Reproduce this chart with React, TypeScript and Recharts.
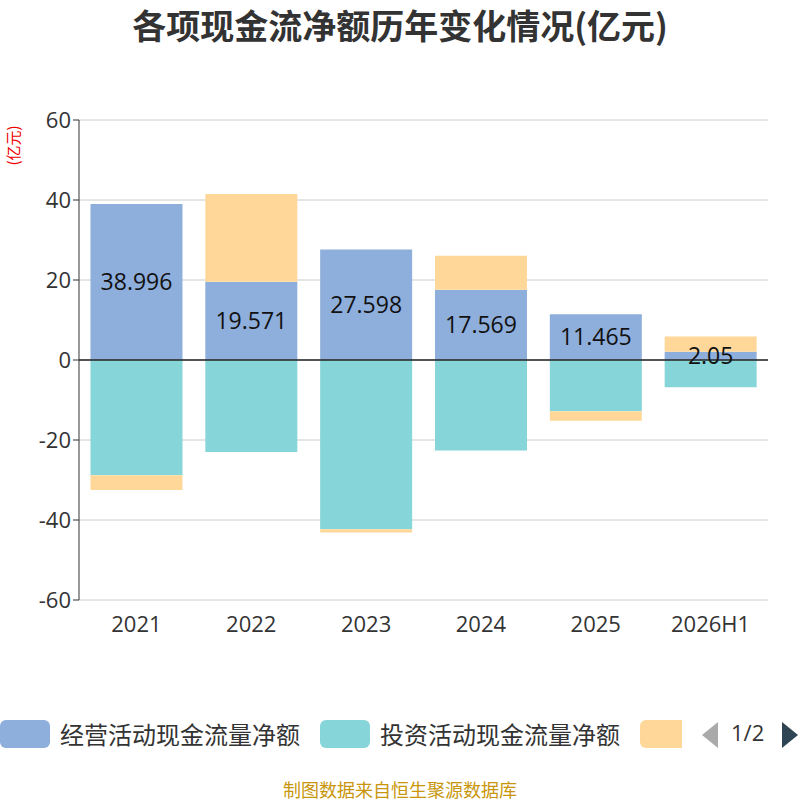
import { BarChart, Bar, XAxis, YAxis, CartesianGrid, ReferenceLine, LabelList } from 'recharts';

const years = ['2021', '2022', '2023', '2024', '2025', '2026H1'];
const operating = [38.996, 19.571, 27.598, 17.569, 11.465, 2.05];
const investing = [-28.8, -23.0, -42.3, -22.6, -12.8, -6.8];
const financing = [-3.7, 21.9, -0.8, 8.5, -2.4, 3.8];
const yTicks = [-60, -40, -20, 0, 20, 40, 60];

const data = years.map((year, i) => ({
  year,
  op: operating[i],
  inv: investing[i],
  fin: financing[i],
}));

const font = '"Open Sans", "Noto Sans CJK SC", sans-serif';

export default function App() {
  return (
    <div style={{ position: 'absolute', left: 0, top: 0, width: 800, height: 800, background: '#fff', fontFamily: font, overflow: 'hidden' }}>
      <div style={{ position: 'absolute', top: 0, width: 800, textAlign: 'center', fontSize: 34, fontWeight: 'bold', color: '#333', fontFamily: '"Noto Sans CJK SC", sans-serif' }}>
        各项现金流净额历年变化情况(亿元)
      </div>
      <div style={{ position: 'absolute', left: -8, top: 135, fontSize: 15, color: '#e00', transform: 'rotate(-90deg)', fontFamily: '"Noto Sans CJK SC", sans-serif' }}>
        (亿元)
      </div>
      <BarChart
        width={800}
        height={800}
        data={data}
        stackOffset="sign"
        barCategoryGap="10%"
        margin={{ top: 120, right: 32, left: 9, bottom: 170 }}
      >
        <CartesianGrid vertical={false} stroke="#ccc" />
        <XAxis dataKey="year" axisLine={false} tickLine={false} tick={{ fontSize: 22, fill: '#333' }} tickMargin={10} height={30} />
        <YAxis
          domain={[-60, 60]}
          ticks={yTicks}
          width={70}
          axisLine={{ stroke: '#333' }}
          tickLine={{ stroke: '#333' }}
          tick={{ fontSize: 22, fill: '#333' }}
        />
        <Bar dataKey="op" stackId="a" fill="#8eaedb" isAnimationActive={false}>
          <LabelList dataKey="op" position="center" style={{ fontSize: 23, fill: '#111' }} />
        </Bar>
        <Bar dataKey="inv" stackId="a" fill="#86d5d8" isAnimationActive={false} />
        <Bar dataKey="fin" stackId="a" fill="#ffd899" isAnimationActive={false} />
        <ReferenceLine y={0} stroke="#222" strokeWidth={1.5} />
      </BarChart>
      <div style={{ position: 'absolute', top: 720, left: 0, width: 800, height: 30, fontSize: 24, color: '#333', fontFamily: '"Noto Sans CJK SC", sans-serif' }}>
        <div style={{ position: 'absolute', left: 0, top: 0, width: 50, height: 28, borderRadius: 6, background: '#8eaedb' }} />
        <div style={{ position: 'absolute', left: 60, top: -4 }}>经营活动现金流量净额</div>
        <div style={{ position: 'absolute', left: 320, top: 0, width: 50, height: 28, borderRadius: 6, background: '#86d5d8' }} />
        <div style={{ position: 'absolute', left: 380, top: -4 }}>投资活动现金流量净额</div>
        <div style={{ position: 'absolute', left: 640, top: 0, width: 42, height: 28, borderRadius: '6px 0 0 6px', background: '#ffd899' }} />
        <svg style={{ position: 'absolute', left: 700, top: 0 }} width={100} height={30}>
          <polygon points="18,2 18,28 2,15" fill="#aaa" />
          <polygon points="82,2 82,28 98,15" fill="#2f4554" />
        </svg>
        <div style={{ position: 'absolute', left: 731, top: -3, fontFamily: font, fontSize: 22 }}>1/2</div>
      </div>
      <div style={{ position: 'absolute', top: 776, width: 800, textAlign: 'center', fontSize: 18, color: '#c8960c', fontFamily: '"Noto Sans CJK SC", sans-serif' }}>
        制图数据来自恒生聚源数据库
      </div>
    </div>
  );
}
